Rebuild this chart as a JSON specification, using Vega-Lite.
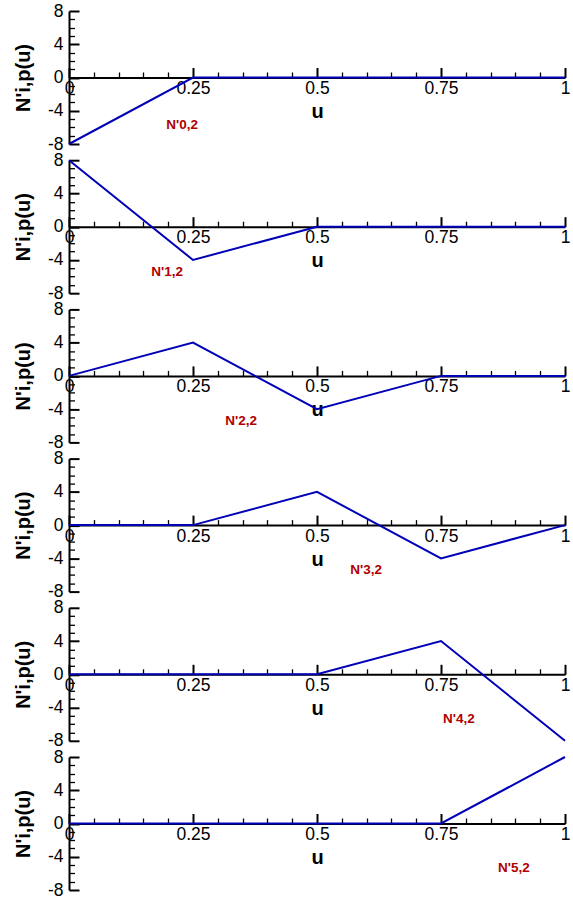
{
  "$schema": "https://vega.github.io/schema/vega-lite/v6.json",
  "padding": {"left": 13, "top": 2, "right": 1, "bottom": 1},
  "data": {"values": [
    {"kind": "curve", "fn": "N'0,2", "u": 0, "v": -8},
    {"kind": "curve", "fn": "N'0,2", "u": 0.25, "v": 0},
    {"kind": "curve", "fn": "N'0,2", "u": 1, "v": 0},
    {"kind": "curve", "fn": "N'1,2", "u": 0, "v": 8},
    {"kind": "curve", "fn": "N'1,2", "u": 0.25, "v": -4},
    {"kind": "curve", "fn": "N'1,2", "u": 0.5, "v": 0},
    {"kind": "curve", "fn": "N'1,2", "u": 1, "v": 0},
    {"kind": "curve", "fn": "N'2,2", "u": 0, "v": 0},
    {"kind": "curve", "fn": "N'2,2", "u": 0.25, "v": 4},
    {"kind": "curve", "fn": "N'2,2", "u": 0.5, "v": -4},
    {"kind": "curve", "fn": "N'2,2", "u": 0.75, "v": 0},
    {"kind": "curve", "fn": "N'2,2", "u": 1, "v": 0},
    {"kind": "curve", "fn": "N'3,2", "u": 0, "v": 0},
    {"kind": "curve", "fn": "N'3,2", "u": 0.25, "v": 0},
    {"kind": "curve", "fn": "N'3,2", "u": 0.5, "v": 4},
    {"kind": "curve", "fn": "N'3,2", "u": 0.75, "v": -4},
    {"kind": "curve", "fn": "N'3,2", "u": 1, "v": 0},
    {"kind": "curve", "fn": "N'4,2", "u": 0, "v": 0},
    {"kind": "curve", "fn": "N'4,2", "u": 0.5, "v": 0},
    {"kind": "curve", "fn": "N'4,2", "u": 0.75, "v": 4},
    {"kind": "curve", "fn": "N'4,2", "u": 1, "v": -8},
    {"kind": "curve", "fn": "N'5,2", "u": 0, "v": 0},
    {"kind": "curve", "fn": "N'5,2", "u": 0.75, "v": 0},
    {"kind": "curve", "fn": "N'5,2", "u": 1, "v": 8},
    {"kind": "label", "fn": "N'0,2", "u": 0.228, "v": -5.7},
    {"kind": "label", "fn": "N'1,2", "u": 0.198, "v": -5.5},
    {"kind": "label", "fn": "N'2,2", "u": 0.347, "v": -5.4},
    {"kind": "label", "fn": "N'3,2", "u": 0.599, "v": -5.4},
    {"kind": "label", "fn": "N'4,2", "u": 0.786, "v": -5.4},
    {"kind": "label", "fn": "N'5,2", "u": 0.897, "v": -5.4}
  ]},
  "facet": {"row": {"field": "fn", "type": "nominal", "header": {"title": null, "labels": false}}},
  "spacing": 16.2,
  "bounds": "flush",
  "resolve": {"axis": {"x": "independent"}},
  "spec": {
    "width": 496,
    "height": 133,
    "encoding": {
      "x": {
        "field": "u", "type": "quantitative",
        "scale": {"domain": [0, 1], "nice": false, "zero": false},
        "axis": {
          "title": "u",
          "orient": "bottom",
          "offset": -66.5,
          "values": [0, 0.05, 0.1, 0.15, 0.2, 0.25, 0.3, 0.35, 0.4, 0.45, 0.5, 0.55, 0.6, 0.65, 0.7, 0.75, 0.8, 0.85, 0.9, 0.95, 1],
          "labelExpr": "indexof([0, 0.25, 0.5, 0.75, 1], datum.value) >= 0 ? '' + datum.value : ''",
          "tickSize": {"condition": {"test": "indexof([0, 0.25, 0.5, 0.75, 1], datum.value) >= 0", "value": -10}, "value": -5.5},
          "tickWidth": {"condition": {"test": "indexof([0, 0.25, 0.5, 0.75, 1], datum.value) >= 0", "value": 2}, "value": 1.3},
          "labelPadding": 12,
          "labelFlush": false,
          "labelOverlap": false,
          "titlePadding": 0
        }
      },
      "y": {
        "field": "v", "type": "quantitative",
        "scale": {"domain": [-8, 8], "nice": false},
        "axis": {
          "title": "N'i,p(u)",
          "values": [-8, -7, -6, -5, -4, -3, -2, -1, 0, 1, 2, 3, 4, 5, 6, 7, 8],
          "labelExpr": "datum.value % 4 === 0 ? '' + datum.value : ''",
          "tickSize": {"condition": {"test": "datum.value % 4 === 0", "value": -10}, "value": -5.5},
          "tickWidth": {"condition": {"test": "datum.value % 4 === 0", "value": 2}, "value": 1.3},
          "labelPadding": 16,
          "labelOverlap": false,
          "labelFlush": false,
          "titlePadding": 14
        }
      }
    },
    "layer": [
      {
        "transform": [{"filter": "datum.kind === 'curve'"}],
        "mark": {"type": "line", "color": "#0000b8", "strokeWidth": 2}
      },
      {
        "transform": [{"filter": "datum.kind === 'label'"}],
        "mark": {"type": "text", "color": "#b00000", "font": "Liberation Sans", "fontSize": 13.5, "fontWeight": "bold"},
        "encoding": {
          "text": {"field": "fn", "type": "nominal"}
        }
      }
    ]
  },
  "config": {
    "view": {"stroke": null},
    "axis": {
      "grid": false,
      "domainColor": "#000000",
      "domainWidth": 2,
      "tickColor": "#000000",
      "labelFont": "Liberation Sans",
      "labelFontSize": 17.5,
      "labelColor": "#000000",
      "titleFont": "Liberation Sans",
      "titleFontSize": 20,
      "titleFontWeight": "bold",
      "titleColor": "#000000"
    }
  }
}
